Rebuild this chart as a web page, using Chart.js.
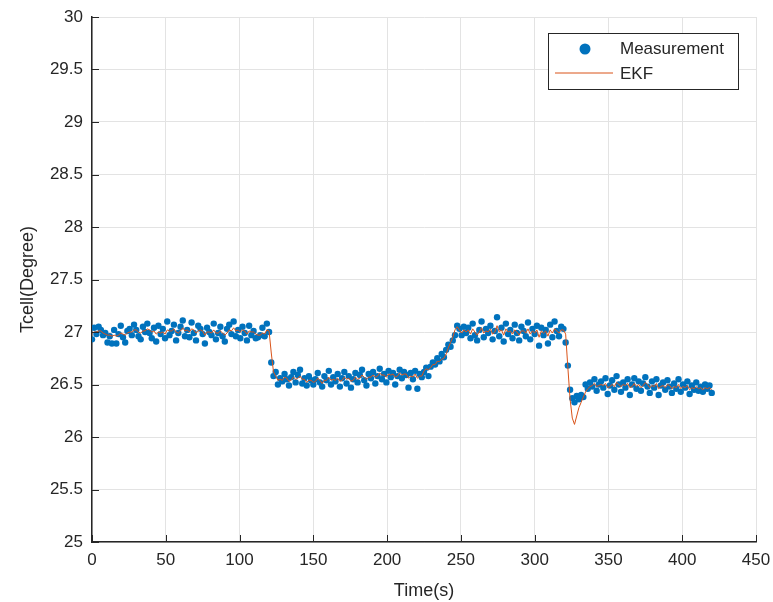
<!DOCTYPE html>
<html>
<head>
<meta charset="utf-8">
<script src="https://cdn.jsdelivr.net/npm/chart.js@4.4.1/dist/chart.umd.min.js"></script>
<style>
  html, body { margin: 0; padding: 0; background: #ffffff; }
  #wrap { width: 773px; height: 602px; }
</style>
</head>
<body>
<div id="wrap"><canvas id="tempChart" width="773" height="602"></canvas></div>
<script>
// sampling interval of the logged data (s)
const SAMPLE_STEP = 1.5;

// measured cell temperature, one value per sample
const measured = [
  26.93, 27.04, 26.98, 27.05, 27.02, 26.97, 26.99, 26.90, 26.96, 26.89,
  27.02, 26.89, 26.98, 27.06, 26.95, 26.90, 27.01, 27.03, 26.97, 27.07,
  27.02, 26.96, 26.93, 27.05, 27.00, 27.08, 26.99, 26.94, 27.04, 26.91,
  27.06, 26.98, 27.03, 26.94, 27.10, 26.97, 27.01, 27.07, 26.92, 26.99,
  27.05, 27.11, 26.96, 27.02, 26.95, 27.09, 26.99, 26.92, 27.06, 27.03,
  26.98, 26.89, 27.04, 27.00, 26.97, 27.08, 26.93, 26.99, 27.05, 26.96,
  26.91, 27.03, 27.07, 26.98, 27.10, 26.96, 27.02, 26.94, 27.05, 26.99,
  26.92, 27.06, 26.97, 27.01, 26.94, 26.95, 26.97, 27.04, 26.96, 27.08,
  27.00,
  26.71, 26.58, 26.62, 26.50, 26.56, 26.53, 26.60, 26.55, 26.49,
  26.57, 26.62, 26.52, 26.59, 26.64, 26.51, 26.56, 26.49, 26.58, 26.54,
  26.50, 26.55, 26.61, 26.52, 26.48, 26.58, 26.54, 26.63, 26.50, 26.57,
  26.53, 26.60, 26.48, 26.56, 26.62, 26.51, 26.58, 26.47, 26.55, 26.61,
  26.52, 26.59, 26.64, 26.54, 26.49, 26.60, 26.56, 26.62, 26.51, 26.58,
  26.65, 26.55, 26.60, 26.52, 26.63, 26.57, 26.61, 26.50, 26.58, 26.64,
  26.56, 26.62, 26.59, 26.47, 26.61, 26.55, 26.63, 26.46, 26.60, 26.57,
  26.62, 26.66, 26.58, 26.67, 26.71, 26.69, 26.75, 26.72, 26.79, 26.76,
  26.83, 26.88, 26.86, 26.92, 26.97, 27.06,
  27.03, 26.97, 27.05, 26.99,
  27.04, 26.94, 27.08, 26.97, 26.92, 27.02, 27.10, 26.95, 27.03, 26.99,
  27.06, 26.93, 27.01, 27.14, 26.96, 27.04, 26.91, 27.08, 26.98, 27.02,
  26.94, 27.07, 26.99, 26.92, 27.05, 27.01, 26.96, 27.09, 26.93, 27.03,
  26.98, 27.06, 26.87, 27.04, 26.97, 27.02, 26.89, 27.07, 26.95, 27.10,
  27.01, 26.96, 27.05, 27.03,
  26.90, 26.68, 26.45, 26.37, 26.33, 26.39,
  26.36, 26.40, 26.38, 26.50, 26.46, 26.52, 26.48, 26.55, 26.44, 26.50,
  26.53, 26.47, 26.56, 26.41, 26.49, 26.54, 26.45, 26.58, 26.50, 26.43,
  26.52, 26.47, 26.55, 26.40, 26.50, 26.56, 26.46, 26.53, 26.44, 26.51,
  26.57, 26.48, 26.42, 26.53, 26.47, 26.55, 26.40, 26.49, 26.52, 26.45,
  26.54, 26.48, 26.42, 26.51, 26.46, 26.55, 26.43, 26.50, 26.47, 26.53,
  26.41, 26.49, 26.45, 26.52, 26.44, 26.48, 26.43, 26.50, 26.46, 26.49, 26.42
];

// EKF estimate at the same samples
const ekf = [
  26.99, 27.00, 27.00, 27.01, 27.01, 26.99, 26.98, 26.97, 26.97, 26.96,
  26.97, 26.96, 26.97, 26.99, 26.98, 26.97, 26.99, 27.00, 27.00, 27.02,
  27.02, 27.00, 26.99, 27.01, 27.01, 27.03, 27.02, 27.00, 27.01, 26.98,
  27.00, 26.99, 27.00, 26.98, 27.02, 27.01, 27.01, 27.03, 27.00, 26.99,
  27.01, 27.04, 27.01, 27.02, 27.00, 27.03, 27.02, 26.99, 27.01, 27.02,
  27.01, 26.97, 27.00, 27.00, 26.99, 27.02, 26.99, 26.99, 27.01, 26.99,
  26.97, 26.99, 27.02, 27.01, 27.04, 27.01, 27.02, 27.00, 27.02, 27.01,
  26.98, 27.01, 27.00, 27.00, 26.98, 26.97, 26.97, 26.99, 26.98, 27.02,
  27.01,
  26.80, 26.62, 26.58, 26.54, 26.55, 26.54, 26.57, 26.56, 26.53,
  26.54, 26.57, 26.55, 26.56, 26.58, 26.55, 26.55, 26.52, 26.54, 26.54,
  26.52, 26.53, 26.56, 26.54, 26.51, 26.54, 26.54, 26.57, 26.54, 26.55,
  26.54, 26.56, 26.53, 26.54, 26.57, 26.55, 26.56, 26.53, 26.54, 26.57,
  26.55, 26.56, 26.59, 26.57, 26.55, 26.57, 26.57, 26.59, 26.57, 26.58,
  26.61, 26.59, 26.59, 26.57, 26.60, 26.59, 26.60, 26.57, 26.58, 26.61,
  26.59, 26.60, 26.60, 26.56, 26.58, 26.57, 26.60, 26.56, 26.58, 26.58,
  26.63, 26.65, 26.64, 26.66, 26.69, 26.69, 26.72, 26.72, 26.74, 26.75,
  26.79, 26.85, 26.90, 26.95, 27.02, 27.05,
  27.02, 26.99, 27.02, 27.00,
  27.02, 26.98, 27.03, 27.00, 26.97, 27.00, 27.04, 26.99, 27.01, 27.00,
  27.03, 26.98, 27.00, 27.06, 27.00, 27.02, 26.97, 27.03, 27.00, 27.01,
  26.98, 27.02, 27.00, 26.97, 27.01, 27.01, 26.99, 27.03, 26.98, 27.01,
  26.99, 27.02, 26.95, 27.01, 26.99, 27.01, 26.96, 27.02, 26.99, 27.03,
  27.01, 26.99, 27.02, 27.02,
  26.98, 26.66, 26.36, 26.18, 26.12, 26.20,
  26.28, 26.33, 26.38, 26.43, 26.46, 26.48, 26.49, 26.51, 26.48, 26.49,
  26.50, 26.49, 26.51, 26.47, 26.48, 26.50, 26.48, 26.52, 26.50, 26.48,
  26.50, 26.49, 26.51, 26.47, 26.48, 26.51, 26.48, 26.50, 26.47, 26.49,
  26.52, 26.50, 26.47, 26.49, 26.48, 26.51, 26.46, 26.48, 26.49, 26.47,
  26.50, 26.49, 26.46, 26.48, 26.47, 26.50, 26.46, 26.48, 26.47, 26.49,
  26.45, 26.47, 26.46, 26.48, 26.46, 26.47, 26.45, 26.47, 26.46, 26.47, 26.45
];

const seriesLabels = ['Measurement', 'EKF'];
const xRange = [0, 450];
const yRange = [25, 30];

const FONT = "'Liberation Sans', Arial, sans-serif";
const AXIS_COLOR = '#262626';
const BLUE = '#0072BD';
const ORANGE = '#D95319';

const measuredPts = measured.map((v, i) => ({ x: i * SAMPLE_STEP, y: v }));
const ekfPts = ekf.map((v, i) => ({ x: i * SAMPLE_STEP, y: v }));

// MATLAB-style inward tick marks
const inwardTicks = {
  id: 'inwardTicks',
  afterDatasetsDraw(chart) {
    const ctx = chart.ctx;
    const { x, y } = chart.scales;
    const area = chart.chartArea;
    ctx.save();
    ctx.strokeStyle = AXIS_COLOR;
    ctx.lineWidth = 1;
    ctx.beginPath();
    y.ticks.forEach(t => {
      const py = Math.round(y.getPixelForValue(t.value)) + 0.5;
      ctx.moveTo(area.left, py);
      ctx.lineTo(area.left + 7, py);
    });
    x.ticks.forEach(t => {
      const px = Math.round(x.getPixelForValue(t.value)) + 0.5;
      ctx.moveTo(px, area.bottom);
      ctx.lineTo(px, area.bottom - 7);
    });
    ctx.stroke();
    ctx.restore();
  }
};

// legend drawn inside the axes, top right
const boxLegend = {
  id: 'boxLegend',
  afterDraw(chart) {
    const ctx = chart.ctx;
    const ds = chart.data.datasets;
    const bx = 548, by = 33, bw = 190, bh = 56;
    ctx.save();
    ctx.fillStyle = '#ffffff';
    ctx.fillRect(bx, by, bw, bh);
    ctx.strokeStyle = AXIS_COLOR;
    ctx.lineWidth = 1;
    ctx.strokeRect(bx + 0.5, by + 0.5, bw, bh);

    ctx.fillStyle = ds[0].backgroundColor;
    ctx.beginPath();
    ctx.arc(585, 49, 5.5, 0, Math.PI * 2);
    ctx.fill();

    ctx.strokeStyle = ds[1].borderColor;
    ctx.beginPath();
    ctx.moveTo(555, 73);
    ctx.lineTo(613, 73);
    ctx.stroke();

    ctx.fillStyle = AXIS_COLOR;
    ctx.font = '17px ' + FONT;
    ctx.textBaseline = 'middle';
    ctx.fillText(ds[0].label, 620, 49);
    ctx.fillText(ds[1].label, 620, 74);
    ctx.restore();
  }
};

new Chart(document.getElementById('tempChart'), {
  type: 'scatter',
  data: {
    datasets: [
      {
        label: seriesLabels[0],
        data: measuredPts,
        backgroundColor: BLUE,
        borderWidth: 0,
        pointRadius: 3.2,
        showLine: false,
        order: 1
      },
      {
        label: seriesLabels[1],
        data: ekfPts,
        borderColor: ORANGE,
        backgroundColor: ORANGE,
        borderWidth: 1,
        pointRadius: 0,
        showLine: true,
        tension: 0,
        order: 0
      }
    ]
  },
  options: {
    responsive: false,
    animation: false,
    layout: { padding: { left: 0, right: 17, top: 17, bottom: 0 } },
    plugins: {
      legend: { display: false },
      tooltip: { enabled: false }
    },
    scales: {
      x: {
        type: 'linear',
        min: xRange[0],
        max: xRange[1],
        afterFit: s => { s.height = 60; s.paddingRight = 0; s.paddingLeft = 0; },
        ticks: {
          stepSize: 50,
          color: AXIS_COLOR,
          font: { family: FONT, size: 17 },
          padding: 8
        },
        grid: { color: '#e3e3e3', drawTicks: false },
        border: { color: AXIS_COLOR, width: 1.5 },
        title: {
          display: true,
          text: 'Time(s)',
          color: AXIS_COLOR,
          font: { family: FONT, size: 18 },
          padding: { top: 0, bottom: 0 }
        }
      },
      y: {
        type: 'linear',
        min: yRange[0],
        max: yRange[1],
        afterFit: s => { s.width = 92; s.paddingTop = 0; s.paddingBottom = 0; },
        ticks: {
          stepSize: 0.5,
          color: AXIS_COLOR,
          font: { family: FONT, size: 17 },
          padding: 9,
          callback: v => String(v)
        },
        grid: { color: '#e3e3e3', drawTicks: false },
        border: { color: AXIS_COLOR, width: 1.5 },
        title: {
          display: true,
          text: 'Tcell(Degree)',
          color: AXIS_COLOR,
          font: { family: FONT, size: 18 },
          padding: { top: 17, bottom: 0 }
        }
      }
    }
  },
  plugins: [inwardTicks, boxLegend]
});
</script>
</body>
</html>
